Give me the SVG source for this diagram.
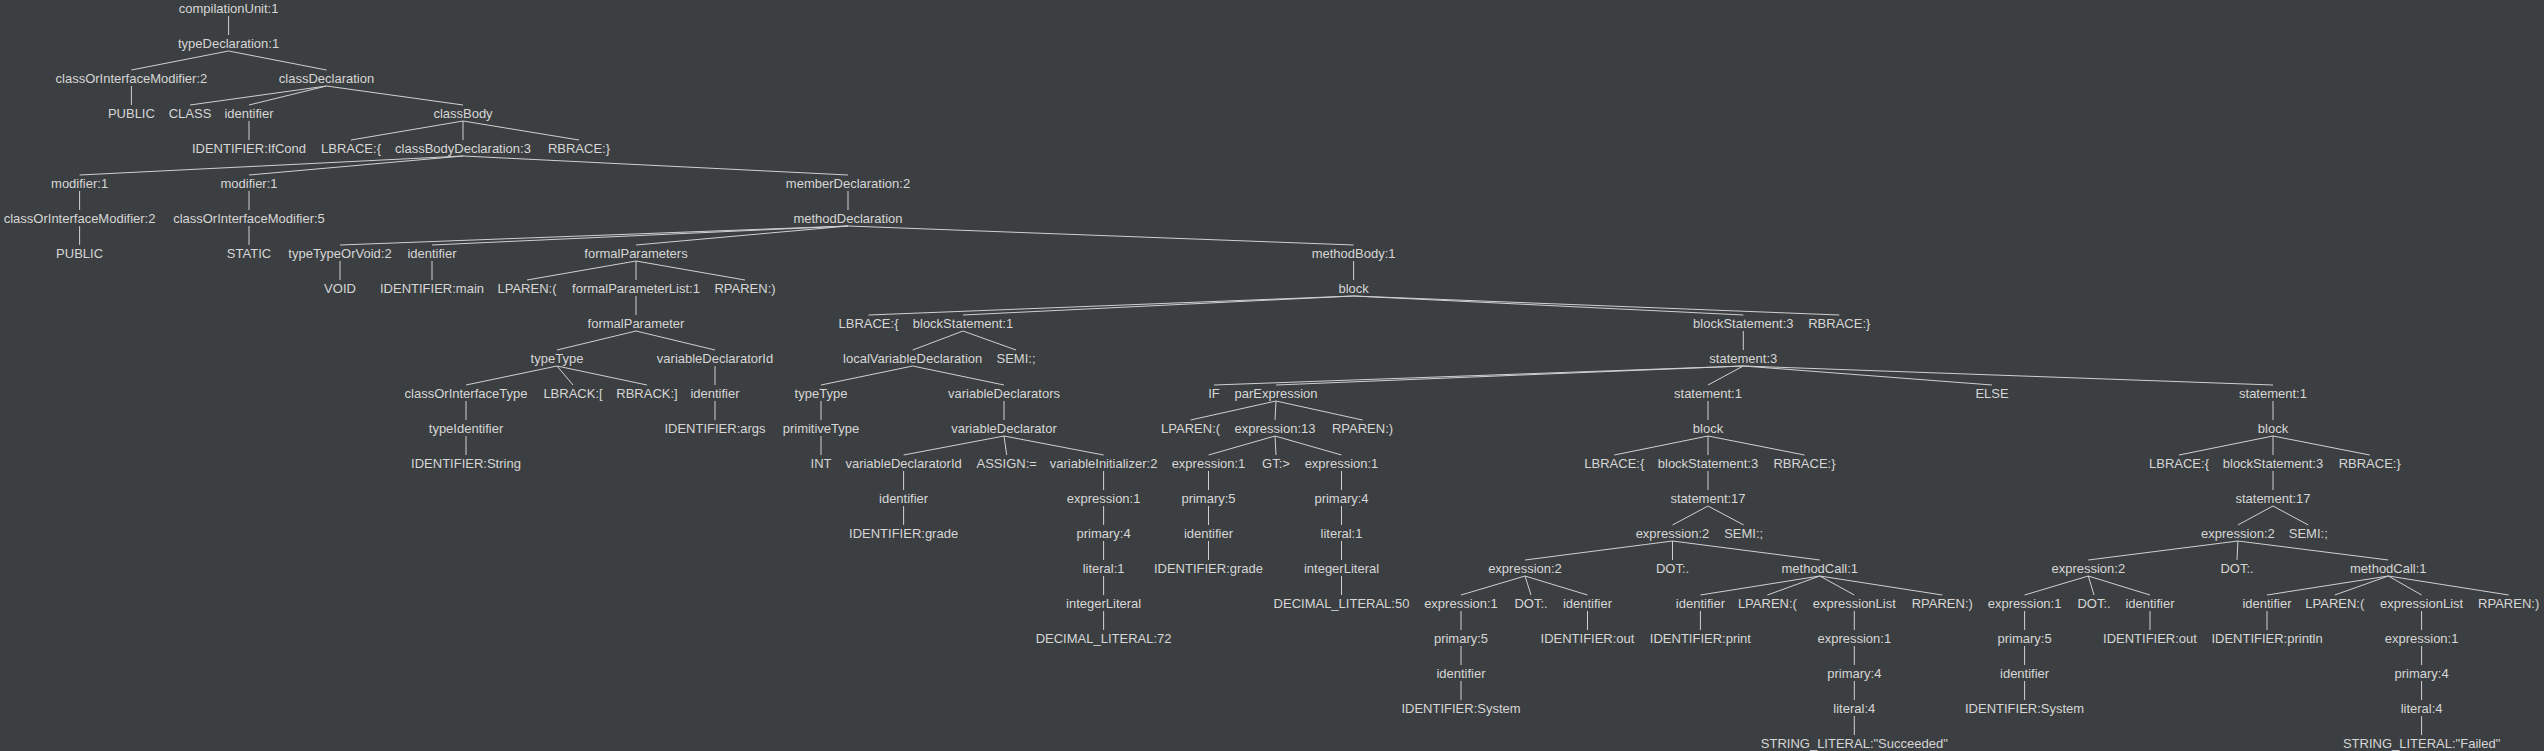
<svg xmlns="http://www.w3.org/2000/svg" width="2544" height="751" viewBox="0 0 2544 751">
<style>
text{font-family:"Liberation Sans",Arial,sans-serif;font-size:13px;fill:#d6d6d6;text-anchor:middle}
#edges line{stroke:#d0d0d0;stroke-width:1}
</style>
<rect width="2544" height="751" fill="#3c3f41"/>
<g id="edges">
<line x1="228.6" y1="16" x2="228.6" y2="35"/>
<line x1="228.6" y1="51" x2="131.4" y2="70"/>
<line x1="228.6" y1="51" x2="326.5" y2="70"/>
<line x1="131.4" y1="86" x2="131.4" y2="105"/>
<line x1="326.5" y1="86" x2="190" y2="105"/>
<line x1="326.5" y1="86" x2="249" y2="105"/>
<line x1="326.5" y1="86" x2="463" y2="105"/>
<line x1="249" y1="121" x2="249" y2="140"/>
<line x1="463" y1="121" x2="351" y2="140"/>
<line x1="463" y1="121" x2="463" y2="140"/>
<line x1="463" y1="121" x2="579" y2="140"/>
<line x1="463" y1="156" x2="79.6" y2="175"/>
<line x1="463" y1="156" x2="249" y2="175"/>
<line x1="463" y1="156" x2="848" y2="175"/>
<line x1="79.6" y1="191" x2="79.6" y2="210"/>
<line x1="249" y1="191" x2="249" y2="210"/>
<line x1="848" y1="191" x2="848" y2="210"/>
<line x1="79.6" y1="226" x2="79.6" y2="245"/>
<line x1="249" y1="226" x2="249" y2="245"/>
<line x1="848" y1="226" x2="340" y2="245"/>
<line x1="848" y1="226" x2="432" y2="245"/>
<line x1="848" y1="226" x2="636" y2="245"/>
<line x1="848" y1="226" x2="1353.6" y2="245"/>
<line x1="340" y1="261" x2="340" y2="280"/>
<line x1="432" y1="261" x2="432" y2="280"/>
<line x1="636" y1="261" x2="527" y2="280"/>
<line x1="636" y1="261" x2="636" y2="280"/>
<line x1="636" y1="261" x2="745" y2="280"/>
<line x1="1353.6" y1="261" x2="1353.6" y2="280"/>
<line x1="636" y1="296" x2="636" y2="315"/>
<line x1="1353.6" y1="296" x2="868.5" y2="315"/>
<line x1="1353.6" y1="296" x2="963" y2="315"/>
<line x1="1353.6" y1="296" x2="1743.3" y2="315"/>
<line x1="1353.6" y1="296" x2="1839.3" y2="315"/>
<line x1="636" y1="331" x2="557" y2="350"/>
<line x1="636" y1="331" x2="715" y2="350"/>
<line x1="963" y1="331" x2="912.7" y2="350"/>
<line x1="963" y1="331" x2="1016" y2="350"/>
<line x1="1743.3" y1="331" x2="1743.3" y2="350"/>
<line x1="557" y1="366" x2="466" y2="385"/>
<line x1="557" y1="366" x2="573" y2="385"/>
<line x1="557" y1="366" x2="647" y2="385"/>
<line x1="715" y1="366" x2="715" y2="385"/>
<line x1="912.7" y1="366" x2="821" y2="385"/>
<line x1="912.7" y1="366" x2="1004" y2="385"/>
<line x1="1743.3" y1="366" x2="1214" y2="385"/>
<line x1="1743.3" y1="366" x2="1276" y2="385"/>
<line x1="1743.3" y1="366" x2="1708" y2="385"/>
<line x1="1743.3" y1="366" x2="1992" y2="385"/>
<line x1="1743.3" y1="366" x2="2273" y2="385"/>
<line x1="466" y1="401" x2="466" y2="420"/>
<line x1="715" y1="401" x2="715" y2="420"/>
<line x1="821" y1="401" x2="821" y2="420"/>
<line x1="1004" y1="401" x2="1004" y2="420"/>
<line x1="1276" y1="401" x2="1190.6" y2="420"/>
<line x1="1276" y1="401" x2="1275" y2="420"/>
<line x1="1276" y1="401" x2="1362.5" y2="420"/>
<line x1="1708" y1="401" x2="1708" y2="420"/>
<line x1="2273" y1="401" x2="2273" y2="420"/>
<line x1="466" y1="436" x2="466" y2="455"/>
<line x1="821" y1="436" x2="821" y2="455"/>
<line x1="1004" y1="436" x2="903.6" y2="455"/>
<line x1="1004" y1="436" x2="1006.7" y2="455"/>
<line x1="1004" y1="436" x2="1103.6" y2="455"/>
<line x1="1275" y1="436" x2="1208.5" y2="455"/>
<line x1="1275" y1="436" x2="1276" y2="455"/>
<line x1="1275" y1="436" x2="1341.5" y2="455"/>
<line x1="1708" y1="436" x2="1614.3" y2="455"/>
<line x1="1708" y1="436" x2="1708" y2="455"/>
<line x1="1708" y1="436" x2="1804.5" y2="455"/>
<line x1="2273" y1="436" x2="2179" y2="455"/>
<line x1="2273" y1="436" x2="2273" y2="455"/>
<line x1="2273" y1="436" x2="2369.7" y2="455"/>
<line x1="903.6" y1="471" x2="903.6" y2="490"/>
<line x1="1103.6" y1="471" x2="1103.6" y2="490"/>
<line x1="1208.5" y1="471" x2="1208.5" y2="490"/>
<line x1="1341.5" y1="471" x2="1341.5" y2="490"/>
<line x1="1708" y1="471" x2="1708" y2="490"/>
<line x1="2273" y1="471" x2="2273" y2="490"/>
<line x1="903.6" y1="506" x2="903.6" y2="525"/>
<line x1="1103.6" y1="506" x2="1103.6" y2="525"/>
<line x1="1208.5" y1="506" x2="1208.5" y2="525"/>
<line x1="1341.5" y1="506" x2="1341.5" y2="525"/>
<line x1="1708" y1="506" x2="1672.5" y2="525"/>
<line x1="1708" y1="506" x2="1743.7" y2="525"/>
<line x1="2273" y1="506" x2="2237.9" y2="525"/>
<line x1="2273" y1="506" x2="2308.3" y2="525"/>
<line x1="1103.6" y1="541" x2="1103.6" y2="560"/>
<line x1="1208.5" y1="541" x2="1208.5" y2="560"/>
<line x1="1341.5" y1="541" x2="1341.5" y2="560"/>
<line x1="1672.5" y1="541" x2="1525" y2="560"/>
<line x1="1672.5" y1="541" x2="1672.5" y2="560"/>
<line x1="1672.5" y1="541" x2="1819.8" y2="560"/>
<line x1="2237.9" y1="541" x2="2088.3" y2="560"/>
<line x1="2237.9" y1="541" x2="2237" y2="560"/>
<line x1="2237.9" y1="541" x2="2388.3" y2="560"/>
<line x1="1103.6" y1="576" x2="1103.6" y2="595"/>
<line x1="1341.5" y1="576" x2="1341.5" y2="595"/>
<line x1="1525" y1="576" x2="1461" y2="595"/>
<line x1="1525" y1="576" x2="1531" y2="595"/>
<line x1="1525" y1="576" x2="1587.5" y2="595"/>
<line x1="1819.8" y1="576" x2="1700.4" y2="595"/>
<line x1="1819.8" y1="576" x2="1767.4" y2="595"/>
<line x1="1819.8" y1="576" x2="1854.3" y2="595"/>
<line x1="1819.8" y1="576" x2="1942.3" y2="595"/>
<line x1="2088.3" y1="576" x2="2024.6" y2="595"/>
<line x1="2088.3" y1="576" x2="2094" y2="595"/>
<line x1="2088.3" y1="576" x2="2150" y2="595"/>
<line x1="2388.3" y1="576" x2="2267" y2="595"/>
<line x1="2388.3" y1="576" x2="2334.8" y2="595"/>
<line x1="2388.3" y1="576" x2="2421.6" y2="595"/>
<line x1="2388.3" y1="576" x2="2508.7" y2="595"/>
<line x1="1103.6" y1="611" x2="1103.6" y2="630"/>
<line x1="1461" y1="611" x2="1461" y2="630"/>
<line x1="1587.5" y1="611" x2="1587.5" y2="630"/>
<line x1="1700.4" y1="611" x2="1700.4" y2="630"/>
<line x1="1854.3" y1="611" x2="1854.3" y2="630"/>
<line x1="2024.6" y1="611" x2="2024.6" y2="630"/>
<line x1="2150" y1="611" x2="2150" y2="630"/>
<line x1="2267" y1="611" x2="2267" y2="630"/>
<line x1="2421.6" y1="611" x2="2421.6" y2="630"/>
<line x1="1461" y1="646" x2="1461" y2="665"/>
<line x1="1854.3" y1="646" x2="1854.3" y2="665"/>
<line x1="2024.6" y1="646" x2="2024.6" y2="665"/>
<line x1="2421.6" y1="646" x2="2421.6" y2="665"/>
<line x1="1461" y1="681" x2="1461" y2="700"/>
<line x1="1854.3" y1="681" x2="1854.3" y2="700"/>
<line x1="2024.6" y1="681" x2="2024.6" y2="700"/>
<line x1="2421.6" y1="681" x2="2421.6" y2="700"/>
<line x1="1854.3" y1="716" x2="1854.3" y2="735"/>
<line x1="2421.6" y1="716" x2="2421.6" y2="735"/>
</g>
<g id="n0"><text x="228.6" y="12.5">compilationUnit:1</text></g>
<g id="n1"><text x="228.6" y="47.5">typeDeclaration:1</text></g>
<g id="n2"><text x="131.4" y="82.5">classOrInterfaceModifier:2</text></g>
<g id="n3"><text x="326.5" y="82.5">classDeclaration</text></g>
<g id="n4"><text x="131.4" y="117.5">PUBLIC</text></g>
<g id="n5"><text x="190" y="117.5">CLASS</text></g>
<g id="n6"><text x="249" y="117.5">identifier</text></g>
<g id="n7"><text x="463" y="117.5">classBody</text></g>
<g id="n8"><text x="249" y="152.5">IDENTIFIER:IfCond</text></g>
<g id="n9"><text x="351" y="152.5">LBRACE:{</text></g>
<g id="n10"><text x="463" y="152.5">classBodyDeclaration:3</text></g>
<g id="n11"><text x="579" y="152.5">RBRACE:}</text></g>
<g id="n12"><text x="79.6" y="187.5">modifier:1</text></g>
<g id="n13"><text x="249" y="187.5">modifier:1</text></g>
<g id="n14"><text x="848" y="187.5">memberDeclaration:2</text></g>
<g id="n15"><text x="79.6" y="222.5">classOrInterfaceModifier:2</text></g>
<g id="n16"><text x="249" y="222.5">classOrInterfaceModifier:5</text></g>
<g id="n17"><text x="848" y="222.5">methodDeclaration</text></g>
<g id="n18"><text x="79.6" y="257.5">PUBLIC</text></g>
<g id="n19"><text x="249" y="257.5">STATIC</text></g>
<g id="n20"><text x="340" y="257.5">typeTypeOrVoid:2</text></g>
<g id="n21"><text x="432" y="257.5">identifier</text></g>
<g id="n22"><text x="636" y="257.5">formalParameters</text></g>
<g id="n23"><text x="1353.6" y="257.5">methodBody:1</text></g>
<g id="n24"><text x="340" y="292.5">VOID</text></g>
<g id="n25"><text x="432" y="292.5">IDENTIFIER:main</text></g>
<g id="n26"><text x="527" y="292.5">LPAREN:(</text></g>
<g id="n27"><text x="636" y="292.5">formalParameterList:1</text></g>
<g id="n28"><text x="745" y="292.5">RPAREN:)</text></g>
<g id="n29"><text x="1353.6" y="292.5">block</text></g>
<g id="n30"><text x="636" y="327.5">formalParameter</text></g>
<g id="n31"><text x="868.5" y="327.5">LBRACE:{</text></g>
<g id="n32"><text x="963" y="327.5">blockStatement:1</text></g>
<g id="n33"><text x="1743.3" y="327.5">blockStatement:3</text></g>
<g id="n34"><text x="1839.3" y="327.5">RBRACE:}</text></g>
<g id="n35"><text x="557" y="362.5">typeType</text></g>
<g id="n36"><text x="715" y="362.5">variableDeclaratorId</text></g>
<g id="n37"><text x="912.7" y="362.5">localVariableDeclaration</text></g>
<g id="n38"><text x="1016" y="362.5">SEMI:;</text></g>
<g id="n39"><text x="1743.3" y="362.5">statement:3</text></g>
<g id="n40"><text x="466" y="397.5">classOrInterfaceType</text></g>
<g id="n41"><text x="573" y="397.5">LBRACK:[</text></g>
<g id="n42"><text x="647" y="397.5">RBRACK:]</text></g>
<g id="n43"><text x="715" y="397.5">identifier</text></g>
<g id="n44"><text x="821" y="397.5">typeType</text></g>
<g id="n45"><text x="1004" y="397.5">variableDeclarators</text></g>
<g id="n46"><text x="1214" y="397.5">IF</text></g>
<g id="n47"><text x="1276" y="397.5">parExpression</text></g>
<g id="n48"><text x="1708" y="397.5">statement:1</text></g>
<g id="n49"><text x="1992" y="397.5">ELSE</text></g>
<g id="n50"><text x="2273" y="397.5">statement:1</text></g>
<g id="n51"><text x="466" y="432.5">typeIdentifier</text></g>
<g id="n52"><text x="715" y="432.5">IDENTIFIER:args</text></g>
<g id="n53"><text x="821" y="432.5">primitiveType</text></g>
<g id="n54"><text x="1004" y="432.5">variableDeclarator</text></g>
<g id="n55"><text x="1190.6" y="432.5">LPAREN:(</text></g>
<g id="n56"><text x="1275" y="432.5">expression:13</text></g>
<g id="n57"><text x="1362.5" y="432.5">RPAREN:)</text></g>
<g id="n58"><text x="1708" y="432.5">block</text></g>
<g id="n59"><text x="2273" y="432.5">block</text></g>
<g id="n60"><text x="466" y="467.5">IDENTIFIER:String</text></g>
<g id="n61"><text x="821" y="467.5">INT</text></g>
<g id="n62"><text x="903.6" y="467.5">variableDeclaratorId</text></g>
<g id="n63"><text x="1006.7" y="467.5">ASSIGN:=</text></g>
<g id="n64"><text x="1103.6" y="467.5">variableInitializer:2</text></g>
<g id="n65"><text x="1208.5" y="467.5">expression:1</text></g>
<g id="n66"><text x="1276" y="467.5">GT:&gt;</text></g>
<g id="n67"><text x="1341.5" y="467.5">expression:1</text></g>
<g id="n68"><text x="1614.3" y="467.5">LBRACE:{</text></g>
<g id="n69"><text x="1708" y="467.5">blockStatement:3</text></g>
<g id="n70"><text x="1804.5" y="467.5">RBRACE:}</text></g>
<g id="n71"><text x="2179" y="467.5">LBRACE:{</text></g>
<g id="n72"><text x="2273" y="467.5">blockStatement:3</text></g>
<g id="n73"><text x="2369.7" y="467.5">RBRACE:}</text></g>
<g id="n74"><text x="903.6" y="502.5">identifier</text></g>
<g id="n75"><text x="1103.6" y="502.5">expression:1</text></g>
<g id="n76"><text x="1208.5" y="502.5">primary:5</text></g>
<g id="n77"><text x="1341.5" y="502.5">primary:4</text></g>
<g id="n78"><text x="1708" y="502.5">statement:17</text></g>
<g id="n79"><text x="2273" y="502.5">statement:17</text></g>
<g id="n80"><text x="903.6" y="537.5">IDENTIFIER:grade</text></g>
<g id="n81"><text x="1103.6" y="537.5">primary:4</text></g>
<g id="n82"><text x="1208.5" y="537.5">identifier</text></g>
<g id="n83"><text x="1341.5" y="537.5">literal:1</text></g>
<g id="n84"><text x="1672.5" y="537.5">expression:2</text></g>
<g id="n85"><text x="1743.7" y="537.5">SEMI:;</text></g>
<g id="n86"><text x="2237.9" y="537.5">expression:2</text></g>
<g id="n87"><text x="2308.3" y="537.5">SEMI:;</text></g>
<g id="n88"><text x="1103.6" y="572.5">literal:1</text></g>
<g id="n89"><text x="1208.5" y="572.5">IDENTIFIER:grade</text></g>
<g id="n90"><text x="1341.5" y="572.5">integerLiteral</text></g>
<g id="n91"><text x="1525" y="572.5">expression:2</text></g>
<g id="n92"><text x="1672.5" y="572.5">DOT:.</text></g>
<g id="n93"><text x="1819.8" y="572.5">methodCall:1</text></g>
<g id="n94"><text x="2088.3" y="572.5">expression:2</text></g>
<g id="n95"><text x="2237" y="572.5">DOT:.</text></g>
<g id="n96"><text x="2388.3" y="572.5">methodCall:1</text></g>
<g id="n97"><text x="1103.6" y="607.5">integerLiteral</text></g>
<g id="n98"><text x="1341.5" y="607.5">DECIMAL_LITERAL:50</text></g>
<g id="n99"><text x="1461" y="607.5">expression:1</text></g>
<g id="n100"><text x="1531" y="607.5">DOT:.</text></g>
<g id="n101"><text x="1587.5" y="607.5">identifier</text></g>
<g id="n102"><text x="1700.4" y="607.5">identifier</text></g>
<g id="n103"><text x="1767.4" y="607.5">LPAREN:(</text></g>
<g id="n104"><text x="1854.3" y="607.5">expressionList</text></g>
<g id="n105"><text x="1942.3" y="607.5">RPAREN:)</text></g>
<g id="n106"><text x="2024.6" y="607.5">expression:1</text></g>
<g id="n107"><text x="2094" y="607.5">DOT:.</text></g>
<g id="n108"><text x="2150" y="607.5">identifier</text></g>
<g id="n109"><text x="2267" y="607.5">identifier</text></g>
<g id="n110"><text x="2334.8" y="607.5">LPAREN:(</text></g>
<g id="n111"><text x="2421.6" y="607.5">expressionList</text></g>
<g id="n112"><text x="2508.7" y="607.5">RPAREN:)</text></g>
<g id="n113"><text x="1103.6" y="642.5">DECIMAL_LITERAL:72</text></g>
<g id="n114"><text x="1461" y="642.5">primary:5</text></g>
<g id="n115"><text x="1587.5" y="642.5">IDENTIFIER:out</text></g>
<g id="n116"><text x="1700.4" y="642.5">IDENTIFIER:print</text></g>
<g id="n117"><text x="1854.3" y="642.5">expression:1</text></g>
<g id="n118"><text x="2024.6" y="642.5">primary:5</text></g>
<g id="n119"><text x="2150" y="642.5">IDENTIFIER:out</text></g>
<g id="n120"><text x="2267" y="642.5">IDENTIFIER:println</text></g>
<g id="n121"><text x="2421.6" y="642.5">expression:1</text></g>
<g id="n122"><text x="1461" y="677.5">identifier</text></g>
<g id="n123"><text x="1854.3" y="677.5">primary:4</text></g>
<g id="n124"><text x="2024.6" y="677.5">identifier</text></g>
<g id="n125"><text x="2421.6" y="677.5">primary:4</text></g>
<g id="n126"><text x="1461" y="712.5">IDENTIFIER:System</text></g>
<g id="n127"><text x="1854.3" y="712.5">literal:4</text></g>
<g id="n128"><text x="2024.6" y="712.5">IDENTIFIER:System</text></g>
<g id="n129"><text x="2421.6" y="712.5">literal:4</text></g>
<g id="n130"><text x="1854.3" y="747.5">STRING_LITERAL:"Succeeded"</text></g>
<g id="n131"><text x="2421.6" y="747.5">STRING_LITERAL:"Failed"</text></g>
</svg>
